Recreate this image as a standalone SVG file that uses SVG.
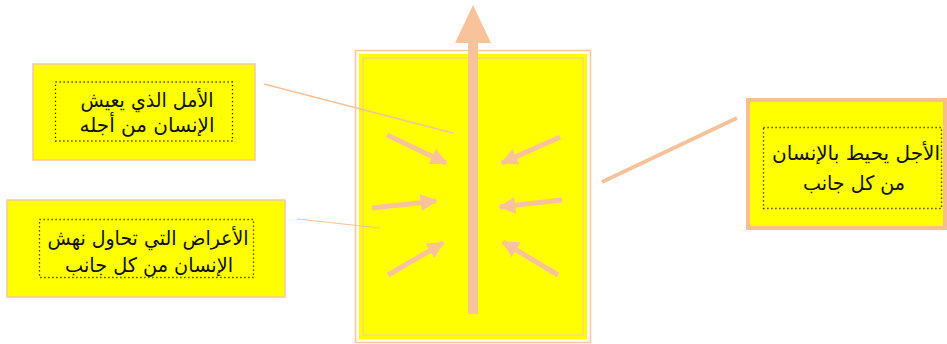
<svg xmlns="http://www.w3.org/2000/svg" width="947" height="344" viewBox="0 0 947 344">
<defs>
<style>
.box{fill:#FFFF00;stroke:#F6C89E;stroke-width:1.5}
.dot{fill:none;stroke:#222;stroke-width:1.3;stroke-dasharray:1.2 2.8}
.t{font-family:"DejaVu Sans",sans-serif;font-size:20px;fill:#111;text-anchor:middle}
.sa{stroke:#F8C39A;stroke-width:5;fill:none;stroke-linecap:butt}
.con{stroke:#F5C29A;fill:none}
</style>
<marker id="ah" viewBox="0 0 10 10" refX="9" refY="5" markerWidth="3.4" markerHeight="3.4" orient="auto" markerUnits="strokeWidth">
<path d="M0,0 L10,5 L0,10 Z" fill="#F8C39A"/>
</marker>
</defs>
<rect width="947" height="344" fill="#fff"/>
<g id="container">
<rect x="355.5" y="50.5" width="235" height="292" fill="#fff" stroke="#F6C89E" stroke-width="1.5"/>
<rect x="359" y="54" width="228" height="285" fill="#FFFF00"/>
<rect x="363" y="58" width="220" height="277" fill="none" stroke="#F6C89E" stroke-width="1"/>
</g>
<g id="arrows">
<rect x="468" y="42" width="10" height="272" fill="#F8C39A"/>
<path d="M455,43 L473,5 L491,43 Z" fill="#F8C39A"/>
<line class="sa" x1="387" y1="135" x2="446" y2="163" marker-end="url(#ah)"/>
<line class="sa" x1="372" y1="208" x2="436" y2="201" marker-end="url(#ah)"/>
<line class="sa" x1="388" y1="275" x2="443" y2="243" marker-end="url(#ah)"/>
<line class="sa" x1="560" y1="137" x2="502" y2="163" marker-end="url(#ah)"/>
<line class="sa" x1="562" y1="200" x2="500" y2="207" marker-end="url(#ah)"/>
<line class="sa" x1="558" y1="275" x2="503" y2="242" marker-end="url(#ah)"/>
</g>
<g id="connectors">
<line class="con" x1="264" y1="84" x2="453" y2="133" stroke-width="1.5"/>
<line class="con" x1="297" y1="219" x2="380" y2="228" stroke-width="1.2"/>
<line class="con" x1="602" y1="182" x2="737" y2="118" stroke-width="4"/>
</g>
<g id="box-hope">
<rect class="box" x="33" y="64" width="222" height="96"/>
<rect class="dot" x="55.5" y="82" width="177" height="59"/>
<text class="t" direction="rtl" x="147" y="107" textLength="133" lengthAdjust="spacingAndGlyphs">الأمل الذي يعيش</text>
<text class="t" direction="rtl" x="147" y="132" textLength="135" lengthAdjust="spacingAndGlyphs">الإنسان من أجله</text>
</g>
<g id="box-ailments">
<rect class="box" x="7" y="200" width="278" height="97"/>
<rect class="dot" x="39.5" y="219.5" width="214" height="58"/>
<text class="t" direction="rtl" x="148" y="245" textLength="201" lengthAdjust="spacingAndGlyphs">الأعراض التي تحاول نهش</text>
<text class="t" direction="rtl" x="149" y="272" textLength="168" lengthAdjust="spacingAndGlyphs">الإنسان من كل جانب</text>
</g>
<g id="box-death">
<rect x="748" y="100" width="197" height="128" fill="#FFFF00" stroke="#F6C08E" stroke-width="4"/>
<rect class="dot" x="763.5" y="127.5" width="178" height="81"/>
<text class="t" direction="rtl" x="856" y="160" textLength="168" lengthAdjust="spacingAndGlyphs">الأجل يحيط بالإنسان</text>
<text class="t" direction="rtl" x="854" y="190" textLength="102" lengthAdjust="spacingAndGlyphs">من كل جانب</text>
</g>
</svg>
